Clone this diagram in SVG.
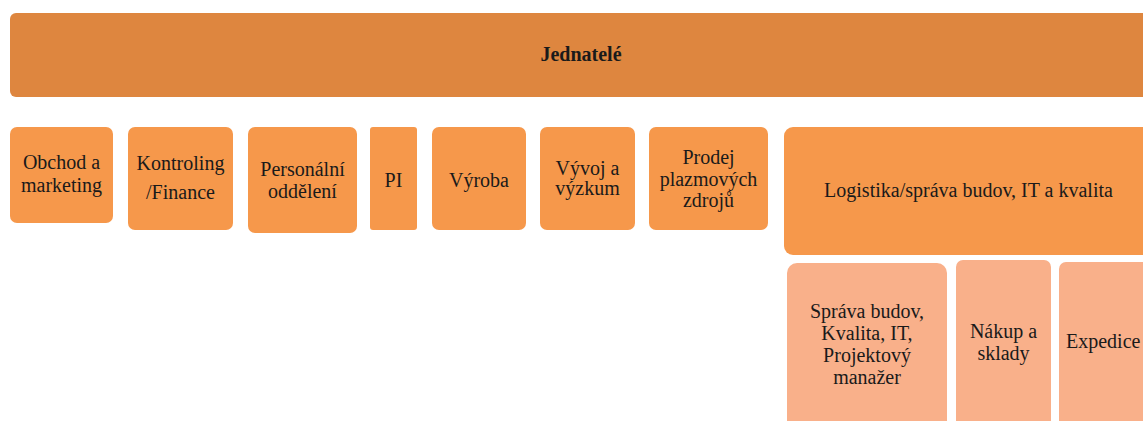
<svg xmlns="http://www.w3.org/2000/svg" width="1143" height="421" viewBox="0 0 1143 421">
<rect width="1143" height="421" fill="#ffffff"/>
<g id="connectors"></g>
<g id="jednatele"><rect fill="#DE863F" x="10" y="13" width="1150" height="84" rx="6"/><text style="font-family:'Liberation Serif','Times New Roman',Tinos,serif;font-size:20px;font-weight:bold" fill="#1a1a1a" text-anchor="middle" x="581" y="61">Jednatelé</text></g>
<g id="obchod"><rect fill="#F6984B" x="10" y="127" width="103" height="96" rx="7"/><text style="font-family:'Liberation Serif','Times New Roman',Tinos,serif;font-size:20px" fill="#1a1a1a" text-anchor="middle" x="61.5" y="169">Obchod a</text><text style="font-family:'Liberation Serif','Times New Roman',Tinos,serif;font-size:20px" fill="#1a1a1a" text-anchor="middle" x="61.5" y="192">marketing</text></g>
<g id="kontroling"><rect fill="#F6984B" x="128" y="127" width="105" height="103" rx="7"/><text style="font-family:'Liberation Serif','Times New Roman',Tinos,serif;font-size:20px" fill="#1a1a1a" text-anchor="middle" x="180.5" y="170">Kontroling</text><text style="font-family:'Liberation Serif','Times New Roman',Tinos,serif;font-size:20px" fill="#1a1a1a" text-anchor="middle" x="180.5" y="199">/Finance</text></g>
<g id="personalni"><rect fill="#F6984B" x="248" y="127" width="109" height="106" rx="7"/><text style="font-family:'Liberation Serif','Times New Roman',Tinos,serif;font-size:20px" fill="#1a1a1a" text-anchor="middle" x="302.5" y="176">Personální</text><text style="font-family:'Liberation Serif','Times New Roman',Tinos,serif;font-size:20px" fill="#1a1a1a" text-anchor="middle" x="302.5" y="198">oddělení</text></g>
<g id="pi"><rect fill="#F6984B" x="370" y="127" width="47" height="103" rx="3"/><text style="font-family:'Liberation Serif','Times New Roman',Tinos,serif;font-size:20px" fill="#1a1a1a" text-anchor="middle" x="393.5" y="187">PI</text></g>
<g id="vyroba"><rect fill="#F6984B" x="432" y="127" width="94" height="103" rx="7"/><text style="font-family:'Liberation Serif','Times New Roman',Tinos,serif;font-size:20px" fill="#1a1a1a" text-anchor="middle" x="479" y="187">Výroba</text></g>
<g id="vyvoj"><rect fill="#F6984B" x="540" y="127" width="95" height="103" rx="7"/><text style="font-family:'Liberation Serif','Times New Roman',Tinos,serif;font-size:20px" fill="#1a1a1a" text-anchor="middle" x="587.5" y="175">Vývoj a</text><text style="font-family:'Liberation Serif','Times New Roman',Tinos,serif;font-size:20px" fill="#1a1a1a" text-anchor="middle" x="587.5" y="195">výzkum</text></g>
<g id="prodej"><rect fill="#F6984B" x="649" y="127" width="119" height="103" rx="7"/><text style="font-family:'Liberation Serif','Times New Roman',Tinos,serif;font-size:20px" fill="#1a1a1a" text-anchor="middle" x="708.5" y="164">Prodej</text><text style="font-family:'Liberation Serif','Times New Roman',Tinos,serif;font-size:20px" fill="#1a1a1a" text-anchor="middle" x="708.5" y="186">plazmových</text><text style="font-family:'Liberation Serif','Times New Roman',Tinos,serif;font-size:20px" fill="#1a1a1a" text-anchor="middle" x="708.5" y="207">zdrojů</text></g>
<g id="logistika"><rect fill="#F6984B" x="784" y="127" width="380" height="128" rx="9"/><text style="font-family:'Liberation Serif','Times New Roman',Tinos,serif;font-size:20px" fill="#1a1a1a" text-anchor="middle" x="968.5" y="197">Logistika/správa budov, IT a kvalita</text></g>
<g id="sprava"><rect fill="#F9B08A" x="787" y="263" width="160" height="170" rx="10"/><text style="font-family:'Liberation Serif','Times New Roman',Tinos,serif;font-size:20px" fill="#1a1a1a" text-anchor="middle" x="867" y="318">Správa budov,</text><text style="font-family:'Liberation Serif','Times New Roman',Tinos,serif;font-size:20px" fill="#1a1a1a" text-anchor="middle" x="867" y="340">Kvalita, IT,</text><text style="font-family:'Liberation Serif','Times New Roman',Tinos,serif;font-size:20px" fill="#1a1a1a" text-anchor="middle" x="867" y="362">Projektový</text><text style="font-family:'Liberation Serif','Times New Roman',Tinos,serif;font-size:20px" fill="#1a1a1a" text-anchor="middle" x="867" y="384">manažer</text></g>
<g id="nakup"><rect fill="#F9B08A" x="956" y="260" width="95" height="173" rx="7"/><text style="font-family:'Liberation Serif','Times New Roman',Tinos,serif;font-size:20px" fill="#1a1a1a" text-anchor="middle" x="1003.5" y="338">Nákup a</text><text style="font-family:'Liberation Serif','Times New Roman',Tinos,serif;font-size:20px" fill="#1a1a1a" text-anchor="middle" x="1003.5" y="360">sklady</text></g>
<g id="expedice"><rect fill="#F9B08A" x="1059" y="262" width="110" height="171" rx="7"/><text style="font-family:'Liberation Serif','Times New Roman',Tinos,serif;font-size:20px" fill="#1a1a1a" x="1066" y="348">Expedice</text></g>
</svg>
